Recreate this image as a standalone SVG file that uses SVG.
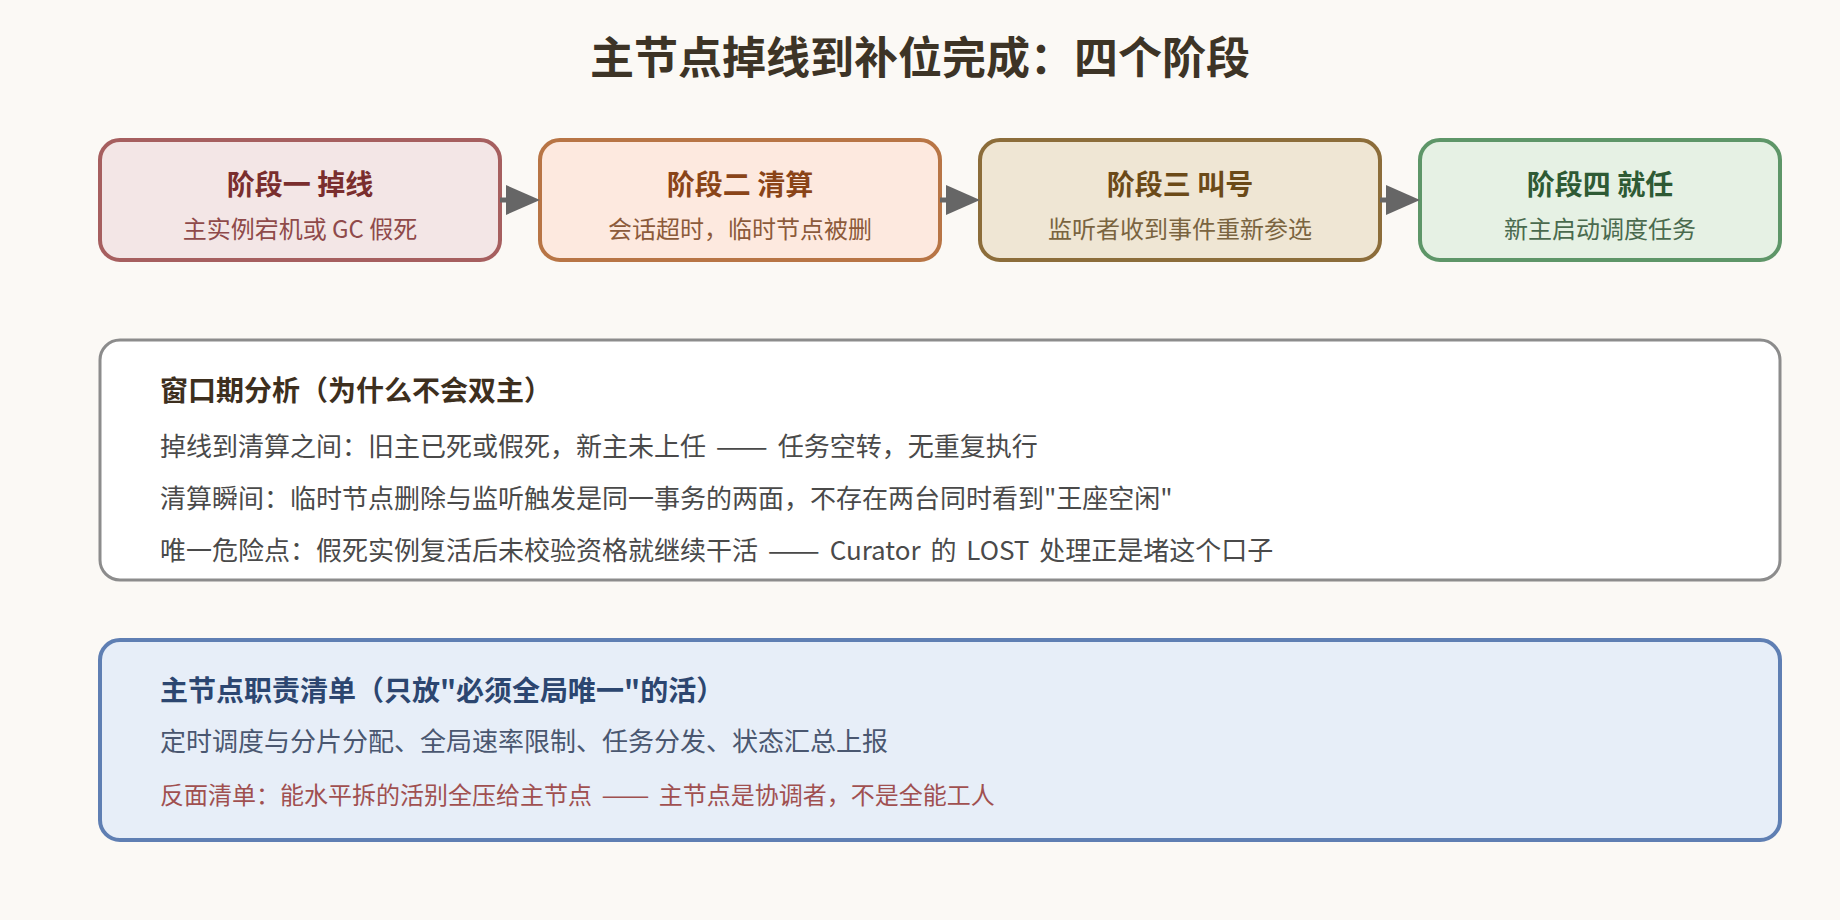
<svg xmlns="http://www.w3.org/2000/svg" width="1840" height="920" viewBox="0 0 1840 920">
<defs>
<style>
text{font-family:"Noto Sans CJK SC","Noto Sans",sans-serif;}
.title{font-size:44px;font-weight:700;fill:#3d3426;text-anchor:middle;}
.st{font-size:28px;font-weight:700;text-anchor:middle;}
.ss{font-size:24px;text-anchor:middle;}
.box{stroke-width:4;}
.h{font-size:28px;font-weight:700;}
.b{font-size:26px;}
.ws{word-spacing:4px;}
.conn{stroke:#666;stroke-width:5;fill:none;}
</style>
<marker id="ah" markerUnits="userSpaceOnUse" markerWidth="36" markerHeight="32" refX="4" refY="15" orient="auto" viewBox="0 0 36 32">
<path d="M0,0 L34,15 L0,30 Z" fill="#666"/>
</marker>
</defs>
<rect width="1840" height="920" fill="#fbf9f5"/>
<text class="title" x="920" y="74">主节点掉线到补位完成：四个阶段</text>

<g id="stage1">
<rect class="box" x="100" y="140" width="400" height="120" rx="20" fill="#f3e6e6" stroke="#a65f5f"/>
<text class="st" x="300" y="195" fill="#7a2e2e">阶段一 掉线</text>
<text class="ss" x="300" y="238" fill="#8f4a4a">主实例宕机或 GC 假死</text>
</g>
<g id="stage2">
<rect class="box" x="540" y="140" width="400" height="120" rx="20" fill="#fde9df" stroke="#b87545"/>
<text class="st" x="740" y="195" fill="#8a4418">阶段二 清算</text>
<text class="ss" x="740" y="238" fill="#8c5a3a">会话超时，临时节点被删</text>
</g>
<g id="stage3">
<rect class="box" x="980" y="140" width="400" height="120" rx="20" fill="#efe6d4" stroke="#8c6d3a"/>
<text class="st" x="1180" y="195" fill="#6b4a18">阶段三 叫号</text>
<text class="ss" x="1180" y="238" fill="#7a6440">监听者收到事件重新参选</text>
</g>
<g id="stage4">
<rect class="box" x="1420" y="140" width="360" height="120" rx="20" fill="#e6f1e4" stroke="#5e9668"/>
<text class="st" x="1600" y="195" fill="#2e5a34">阶段四 就任</text>
<text class="ss" x="1600" y="238" fill="#4a6a4e">新主启动调度任务</text>
</g>

<g id="connectors">
<line class="conn" x1="500" y1="200" x2="510" y2="200" marker-end="url(#ah)"/>
<line class="conn" x1="940" y1="200" x2="950" y2="200" marker-end="url(#ah)"/>
<line class="conn" x1="1380" y1="200" x2="1390" y2="200" marker-end="url(#ah)"/>
</g>

<g id="window">
<rect x="100" y="340" width="1680" height="240" rx="20" fill="#ffffff" stroke="#8c8c8c" stroke-width="3"/>
<text class="h" x="160" y="401" fill="#3d2f1e">窗口期分析（为什么不会双主）</text>
<text class="b ws" x="160" y="456" fill="#4a4a4a">掉线到清算之间：旧主已死或假死，新主未上任 <tspan textLength="52" lengthAdjust="spacingAndGlyphs">——</tspan> 任务空转，无重复执行</text>
<text class="b" x="160" y="508" fill="#4a4a4a">清算瞬间：临时节点删除与监听触发是同一事务的两面，不存在两台同时看到"王座空闲"</text>
<text class="b ws" x="160" y="560" fill="#4a4a4a">唯一危险点：假死实例复活后未校验资格就继续干活 <tspan textLength="52" lengthAdjust="spacingAndGlyphs">——</tspan> Curator 的 LOST 处理正是堵这个口子</text>
</g>

<g id="duties">
<rect x="100" y="640" width="1680" height="200" rx="20" fill="#e7eef8" stroke="#5f7fb3" stroke-width="4"/>
<text class="h" x="160" y="701" fill="#2c4670">主节点职责清单（只放"必须全局唯一"的活）</text>
<text class="b" x="160" y="751" fill="#4a5770">定时调度与分片分配、全局速率限制、任务分发、状态汇总上报</text>
<text class="ws" x="160" y="804" font-size="24" fill="#a05050">反面清单：能水平拆的活别全压给主节点 <tspan textLength="48" lengthAdjust="spacingAndGlyphs">——</tspan> 主节点是协调者，不是全能工人</text>
</g>
</svg>
